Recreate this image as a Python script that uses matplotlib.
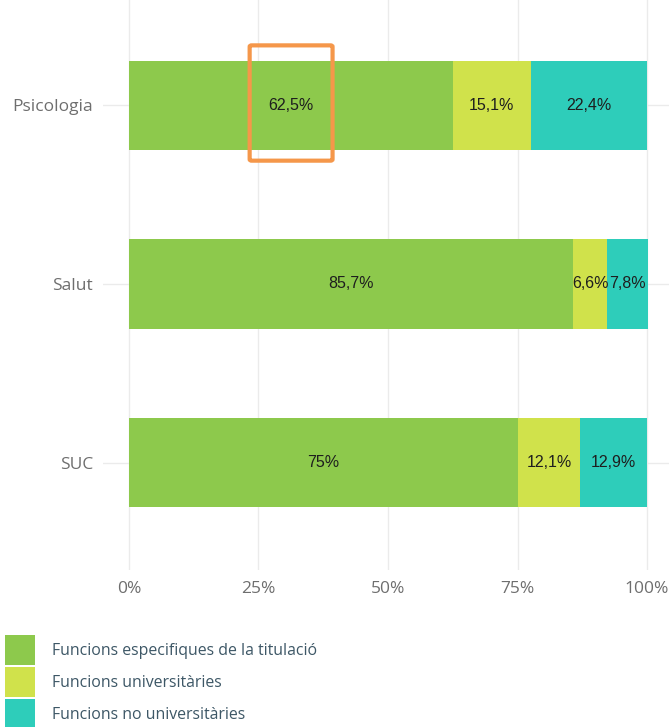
import matplotlib
matplotlib.use("Agg")
import matplotlib.pyplot as plt
from matplotlib.patches import FancyBboxPatch, Patch

# --- data ---
categories = ["Psicologia", "Salut", "SUC"]
series_names = ["Funcions especifiques de la titulació",
                "Funcions universitàries",
                "Funcions no universitàries"]
especifiques = [62.5, 85.7, 75.0]
universitaries = [15.1, 6.6, 12.1]
no_universitaries = [22.4, 7.8, 12.9]
x_ticks = [0, 25, 50, 75, 100]
x_tick_labels = ["0%", "25%", "50%", "75%", "100%"]

colors = ["#8dc94c", "#d0e24b", "#2ecdba"]

def fmt(v):
    s = ("%.1f" % v).rstrip("0").rstrip(".")
    return s.replace(".", ",") + "%"

W, H = 669, 727
fig = plt.figure(figsize=(W / 100, H / 100), dpi=100)
fig.patch.set_facecolor("white")

# panel in pixel coords (ggplot-like, x expanded 5%)
left, right, top, bottom = 103, 673, -2, 570
ax = fig.add_axes([left / W, (H - bottom) / H, (right - left) / W, (bottom - top) / H])
ax.set_facecolor("white")

ypos = [2, 1, 0]  # Psicologia on top
lefts = [0, 0, 0]
for vals, col in zip([especifiques, universitaries, no_universitaries], colors):
    ax.barh(ypos, vals, left=lefts, height=0.5, color=col, edgecolor="none", zorder=2)
    for y, l, v in zip(ypos, lefts, vals):
        ax.text(l + v / 2, y, fmt(v), ha="center", va="center", fontsize=11.5,
                family="Liberation Sans", color="#1e1e1e", zorder=3)
    lefts = [a + b for a, b in zip(lefts, vals)]

ax.set_xlim(-5, 105)
ax.set_ylim(-0.6, 2.6)
ax.set_xticks(x_ticks)
ax.set_xticklabels(x_tick_labels)
ax.set_yticks(ypos)
ax.set_yticklabels(categories)
ax.grid(True, color="#ebebeb", linewidth=1, zorder=0)
ax.set_axisbelow(True)
for s in ax.spines.values():
    s.set_visible(False)
ax.tick_params(length=0, labelsize=12.5, labelcolor="#6e6e6e")
ax.tick_params(axis="x", pad=8)
ax.tick_params(axis="y", pad=7)
for lab in ax.get_xticklabels() + ax.get_yticklabels():
    lab.set_family("Open Sans")

# orange highlight around 62,5%
box = FancyBboxPatch((23.3, 2 - 0.31), 39.3 - 23.3, 0.31 + 0.335,
                     boxstyle="round,pad=0,rounding_size=0.4",
                     fill=False, edgecolor="#f5974a", linewidth=3, zorder=4,
                     mutation_aspect=0.02)
ax.add_patch(box)

# legend
handles = [Patch(facecolor=c, edgecolor="none") for c in colors]
leg = fig.legend(handles, series_names, loc="upper left",
                 bbox_to_anchor=(5 / W, 1 - 635 / H), frameon=False,
                 borderpad=0, borderaxespad=0, handlelength=1.9, handleheight=2.55,
                 labelspacing=0.13, handletextpad=1.08,
                 prop={"family": "Open Sans", "size": 11.4})
for t in leg.get_texts():
    t.set_color("#3d5766")

fig.savefig("out.png", dpi=100, facecolor="white")
